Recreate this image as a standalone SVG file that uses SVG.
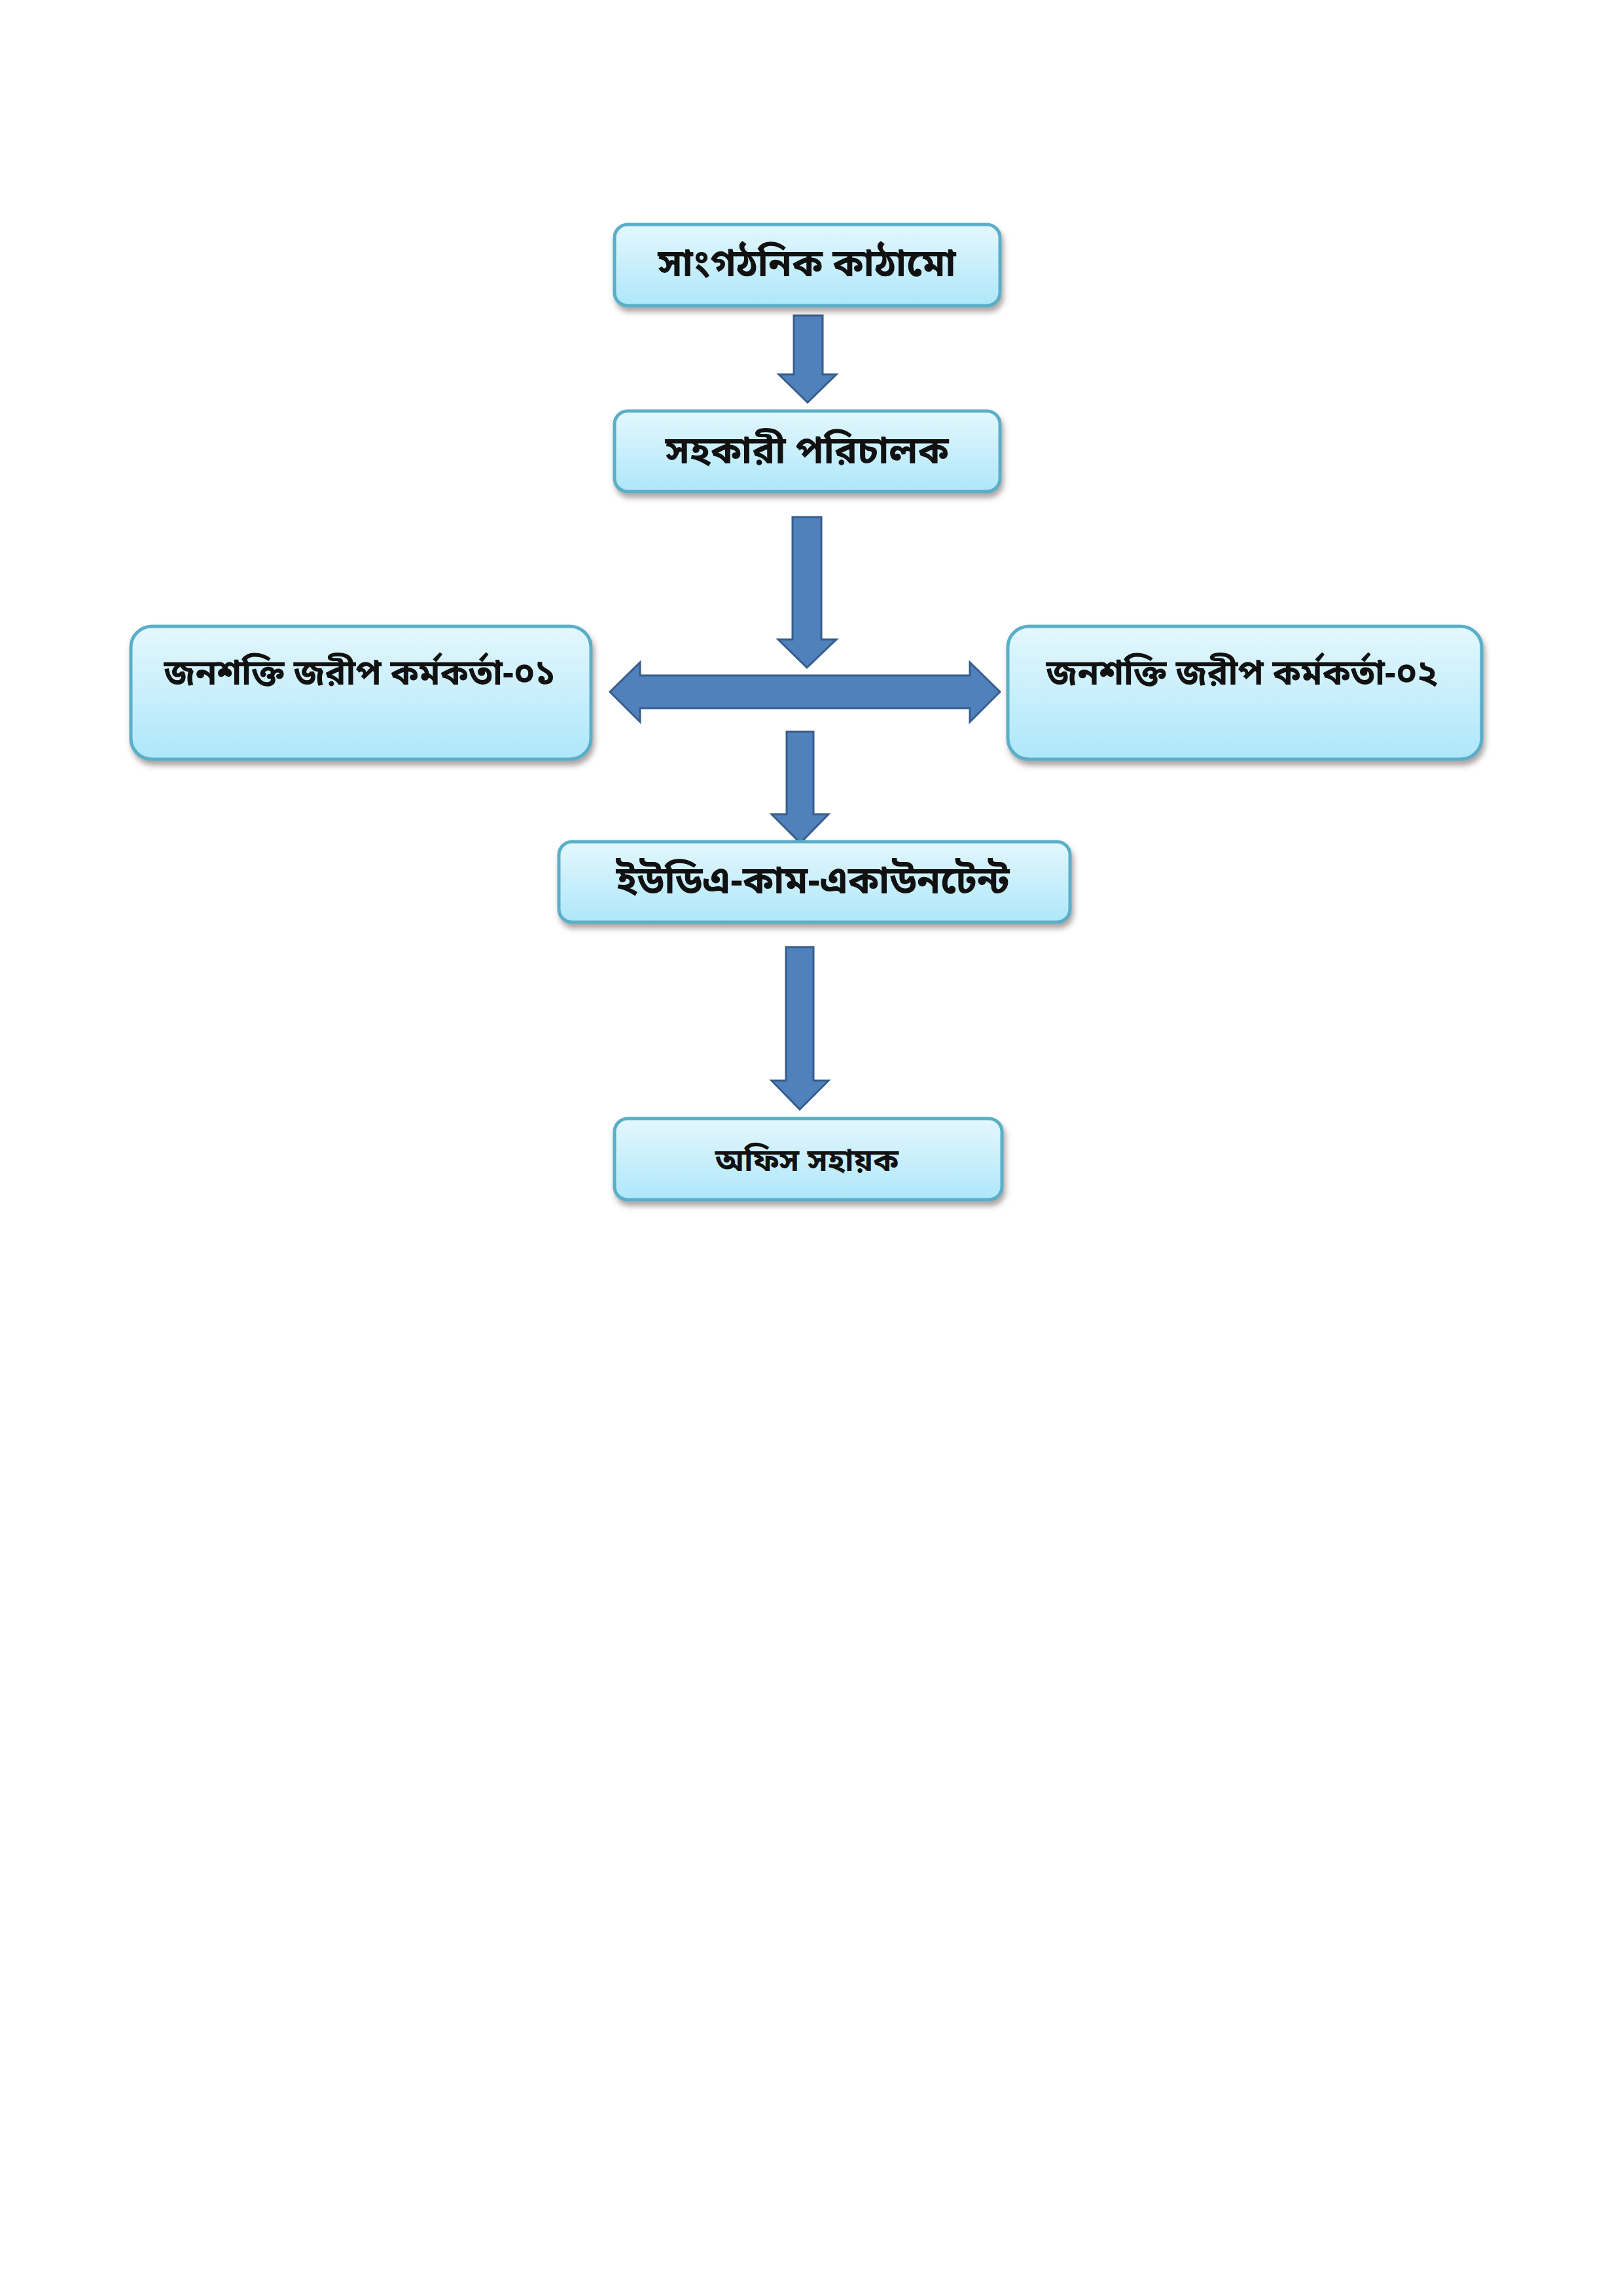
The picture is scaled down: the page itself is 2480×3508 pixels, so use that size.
<svg xmlns="http://www.w3.org/2000/svg" width="2480" height="3508" viewBox="0 0 2480 3508">
  <defs>
    <linearGradient id="boxGrad" x1="0" y1="0" x2="0" y2="1">
      <stop offset="0" stop-color="#e4f7fd"/>
      <stop offset="1" stop-color="#aee7fa"/>
    </linearGradient>
    <filter id="shadow" x="-10%" y="-20%" width="120%" height="150%">
      <feDropShadow dx="3" dy="7" stdDeviation="4" flood-color="#6b5a5a" flood-opacity="0.55"/>
    </filter>
    <style>
      .box { fill: url(#boxGrad); stroke: #5aafc8; stroke-width: 5; filter: url(#shadow); }
      .lbl { font-family: "Noto Sans Bengali", "Noto Serif Bengali", "Lohit Bengali", "FreeSans", "Noto Sans", sans-serif; font-weight: bold; fill: #111; text-anchor: middle; }
      .arrow { fill: #4f81bd; stroke: #385d8a; stroke-width: 3; stroke-linejoin: miter; }
    </style>
  </defs>
  <rect width="2480" height="3508" fill="#ffffff"/>

  <g id="connectors">
    <path class="arrow" d="M1213,482 H1257 V572 H1278 L1234,615 L1190,572 H1213 Z"/>
    <path class="arrow" d="M1211,790 H1255 V977 H1278 L1233,1020 L1189,977 H1211 Z"/>
    <path class="arrow" d="M932,1057 L978,1012 V1032 H1482 V1012 L1528,1057 L1482,1103 V1082 H978 V1103 Z"/>
    <path class="arrow" d="M1202,1118 H1243 V1244 H1266 L1223,1288 L1179,1244 H1202 Z"/>
    <path class="arrow" d="M1201,1447 H1243 V1651 H1266 L1222,1695 L1179,1651 H1201 Z"/>
  </g>

  <g id="node-structure">
    <rect class="box" x="939" y="343" width="589" height="124" rx="20"/>
    <text class="lbl" x="1233" y="422" font-size="58">সাংগঠনিক কাঠামো</text>
  </g>
  <g id="node-assistant-director">
    <rect class="box" x="939" y="628" width="589" height="123" rx="20"/>
    <text class="lbl" x="1233" y="708" font-size="58">সহকারী পরিচালক</text>
  </g>
  <g id="node-survey-officer-1">
    <rect class="box" x="200" y="957" width="703" height="203" rx="32"/>
    <text class="lbl" x="550" y="1046" font-size="53">জনশক্তি জরীপ কর্মকর্তা-০১</text>
  </g>
  <g id="node-survey-officer-2">
    <rect class="box" x="1540" y="957" width="724" height="203" rx="32"/>
    <text class="lbl" x="1898" y="1046" font-size="53">জনশক্তি জরীপ কর্মকর্তা-০২</text>
  </g>
  <g id="node-uda-accountant">
    <rect class="box" x="854" y="1286" width="781" height="123" rx="20"/>
    <text class="lbl" x="1242" y="1365" font-size="58">ইউডিএ-কাম-একাউনটেন্ট</text>
  </g>
  <g id="node-office-assistant">
    <rect class="box" x="939" y="1709" width="592" height="124" rx="20"/>
    <text class="lbl" x="1233" y="1789" font-size="48" font-weight="normal">অফিস সহায়ক</text>
  </g>
</svg>
